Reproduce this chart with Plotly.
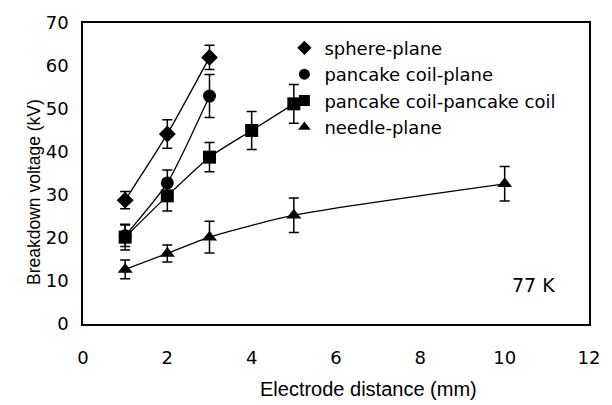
import plotly.graph_objects as go

names = ["sphere-plane", "pancake coil-plane", "pancake coil-pancake coil", "needle-plane"]
symbols = ["diamond", "circle", "square", "triangle-up"]

sphere_x = [1, 2, 3]
sphere_y = [28.8, 44.2, 62.0]
sphere_err = [2.0, 3.3, 2.8]

coilplane_x = [1, 2, 3]
coilplane_y = [20.5, 32.8, 53.0]
coilplane_err = [2.5, 3.0, 5.0]

coilcoil_x = [1, 2, 3, 4, 5]
coilcoil_y = [20.2, 29.8, 38.8, 45.0, 51.2]
coilcoil_err = [3.0, 3.5, 3.4, 4.4, 4.5]

needle_x = [1, 2, 3, 5, 10]
needle_y = [12.7, 16.4, 20.2, 25.3, 32.6]
needle_err = [2.2, 2.0, 3.7, 4.0, 4.0]

series = [
    (sphere_x, sphere_y, sphere_err),
    (coilplane_x, coilplane_y, coilplane_err),
    (coilcoil_x, coilcoil_y, coilcoil_err),
    (needle_x, needle_y, needle_err),
]

sans = "Liberation Sans, Arial, sans-serif"
wide = "DejaVu Sans, sans-serif"
fig = go.Figure()

for (x, y, e), sym in zip(series, symbols):
    fig.add_trace(go.Scatter(
        x=x, y=y, mode="lines+markers", showlegend=False,
        line=dict(color="black", width=1.3, shape="spline", smoothing=0.6),
        marker=dict(symbol=sym, size=13, color="black"),
        error_y=dict(type="data", array=e, visible=True, color="black", thickness=1.5, width=5),
    ))

for name, sym in zip(names, symbols):
    fig.add_trace(go.Scatter(
        x=[None], y=[None], mode="markers", name=name,
        marker=dict(symbol=sym, size=11, color="black"),
    ))

fig.add_annotation(x=10.68, y=9.0, text="77 K", showarrow=False,
                   font=dict(family=wide, size=19, color="black"))
fig.add_annotation(xref="paper", yref="paper", x=0.565, y=-0.215,
                   xanchor="center", yanchor="middle", showarrow=False,
                   text="Electrode distance (mm)",
                   font=dict(family=sans, size=20, color="black"))
fig.add_annotation(xref="paper", yref="paper", x=-0.098, y=0.44,
                   xanchor="center", yanchor="middle", showarrow=False,
                   textangle=-90, text="Breakdown voltage (kV)",
                   font=dict(family=sans, size=17.5, color="black"))

fig.update_layout(
    width=612, height=405,
    margin=dict(l=83, r=21, t=13, b=81),
    paper_bgcolor="white", plot_bgcolor="white",
    font=dict(family=wide, size=18, color="black"),
    legend=dict(x=0.398, y=0.978, xanchor="left", yanchor="top",
                bgcolor="rgba(0,0,0,0)", borderwidth=0, itemwidth=30,
                font=dict(family=wide, size=18)),
    xaxis=dict(range=[0, 12], dtick=2, showgrid=False, zeroline=False,
               showline=True, linecolor="black", linewidth=1.5, mirror=True,
               ticks="", ticklen=0, ticklabelstandoff=17,
               tickfont=dict(family=wide, size=18)),
    yaxis=dict(range=[0, 70], dtick=10, showgrid=False, zeroline=False,
               showline=True, linecolor="black", linewidth=1.5, mirror=True,
               ticks="", ticklen=0, ticklabelstandoff=9,
               tickfont=dict(family=wide, size=18)),
)

fig.write_html("out.html")
